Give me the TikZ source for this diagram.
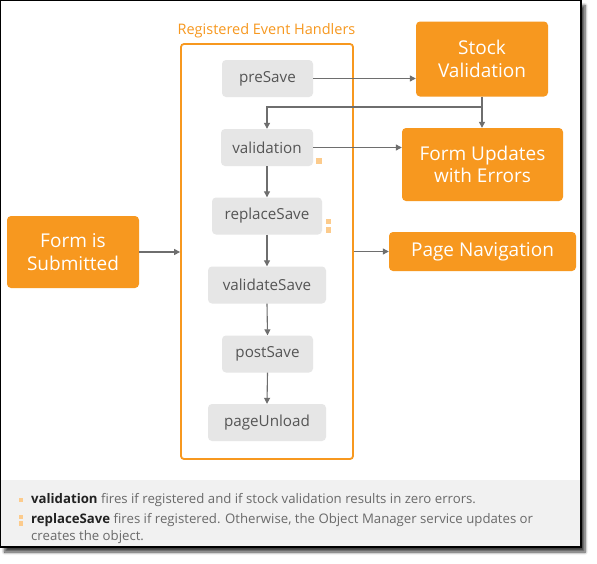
\documentclass[tikz,border=0pt]{standalone}
\usepackage{fontspec}
\setmainfont{Open Sans}
\usetikzlibrary{arrows.meta,shadows.blur}
\definecolor{orng}{HTML}{F7981F}
\definecolor{evgray}{HTML}{E6E6E6}
\definecolor{evtext}{HTML}{555555}
\definecolor{arr}{HTML}{6E6E6E}
\definecolor{marksq}{HTML}{FCCB8C}
\definecolor{foot}{HTML}{F1F1F1}
\definecolor{foottext}{HTML}{6A6A6A}
\definecolor{footbold}{HTML}{222222}
\begin{document}
\begin{tikzpicture}[x=1pt,y=-1pt,
  orangebox/.style={fill=orng, text=white, rounded corners=4pt, font=\fontsize{19}{22.5}\selectfont, align=center, inner sep=0pt},
  evbox/.style={fill=evgray, text=evtext, rounded corners=4pt, font=\fontsize{15.2}{17}\selectfont, inner sep=0pt, minimum height=37pt},
  conn/.style={draw=arr, line width=1.1pt, -{Triangle[width=6pt,length=6pt]}},
  sqmark/.style={fill=marksq, minimum size=5.5pt, inner sep=0pt},
  foottxt/.style={font=\fontsize{13.2}{17}\selectfont, text=foottext, inner sep=0pt, align=left}]
\useasboundingbox (0,0) rectangle (597,563);
% frame
\fill[white, blur shadow={shadow xshift=4pt, shadow yshift=-5pt, shadow blur steps=6, shadow blur radius=3pt, shadow opacity=75}] (0.6,0.6) rectangle (581,547);
\fill[foot] (0.6,480) rectangle (581,547);
\draw[black, line width=1.4pt] (0.7,0.7) rectangle (581,547);
% container
\node[orng, font=\fontsize{14.5}{16}\selectfont, inner sep=0pt] (title) at (266.5,31) {Registered Event Handlers};
\node[draw=orng, line width=1.8pt, rounded corners=3pt, minimum width=172pt, minimum height=415pt, inner sep=0pt] (reg) at (267,251.5) {};
% event handlers
\node[evbox, minimum width=91pt] (pre) at (267.5,78.5) {preSave};
\node[evbox, minimum width=92pt] (val) at (267,147.5) {validation};
\node[evbox, minimum width=110pt] (rep) at (267,216) {replaceSave};
\node[evbox, minimum width=118pt] (vsv) at (267,285) {validateSave};
\node[evbox, minimum width=91pt] (post) at (267.5,354) {postSave};
\node[evbox, minimum width=118pt] (unl) at (267,422.5) {pageUnload};
% orange boxes
\node[orangebox, minimum width=132pt, minimum height=75pt] (stock) at (482,59) {Stock\\Validation};
\node[orangebox, minimum width=161pt, minimum height=73pt] (upd) at (482.5,164.5) {Form Updates\\with Errors};
\node[orangebox, minimum width=132pt, minimum height=72pt] (sub) at (73,252) {Form is\\Submitted};
\node[orangebox, minimum width=187pt, minimum height=39pt] (nav) at (482.5,251.5) {Page Navigation};
% markers
\node[sqmark] (m1) at (319,161) {};
\node[sqmark] (m2) at (328.5,221.5) {};
\node[sqmark] (m3) at (328.5,230) {};
% connectors
\coordinate (j) at (482,107);
\draw[conn] (pre.east) -- (stock.west |- pre.east);
\draw[conn] (stock.south) -- (stock.south |- upd.north);
\draw[conn] (j) -- (j -| val.north) -- (val.north);
\draw[conn] (val.east) -- (val.east -| upd.west);
\draw[conn] (val.south) -- (rep.north);
\draw[conn] (rep.south) -- (vsv.north);
\draw[conn] (vsv.south) -- (post.north);
\draw[conn] (post.south) -- (unl.north);
\draw[conn] (sub.east) -- (sub.east -| reg.west);
\draw[conn] (reg.east |- nav.west) -- (nav.west);
% footer
\node[sqmark, minimum size=4.5pt] (fm1) at (21,500) {};
\node[sqmark, minimum width=4.5pt, minimum height=4.5pt] (fm2) at (21,517) {};
\node[sqmark, minimum width=4.5pt, minimum height=4.5pt] (fm3) at (21,523.5) {};
\node[foottxt, anchor=west] (f1) at (31,500) {\textcolor{footbold}{\textbf{validation}} fires if registered and if stock validation results in zero errors.};
\node[foottxt, anchor=north west] (f2) at (31,513.5) {\textcolor{footbold}{\textbf{replaceSave}} fires if registered. Otherwise, the Object Manager service updates or\\creates the object.};
\end{tikzpicture}
\end{document}
